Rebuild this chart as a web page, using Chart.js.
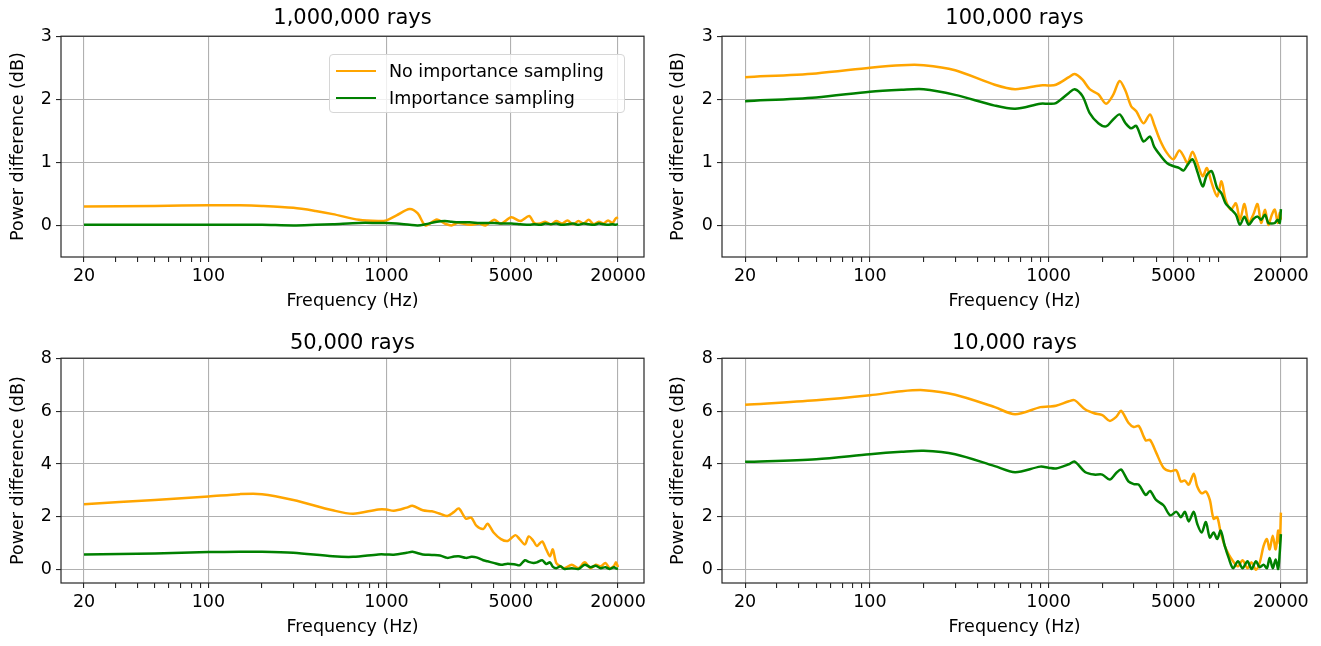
<!DOCTYPE html>
<html>
<head>
<meta charset="utf-8">
<script src="https://cdn.jsdelivr.net/npm/chart.js@4.4.1/dist/chart.umd.min.js"></script>
<style>
  body { margin: 0; background: #fff; }
  #fig { position: relative; width: 1321px; height: 646px; font-family: "DejaVu Sans", sans-serif; }
  .cell { position: absolute; }
  .cell canvas { display: block; }
  #legend {
    position: absolute; left: 329px; top: 54px; width: 296px; height: 59px;
    box-sizing: border-box; border: 1px solid #d6d6d6; border-radius: 4px;
    background: rgba(255, 255, 255, 0.8);
  }
  #legend .item { position: absolute; left: 0; height: 22px; font-size: 17.5px; line-height: 22px; color: #000; white-space: nowrap; }
  #legend .swatch { position: absolute; left: 6px; top: 10px; width: 40px; height: 0; border-top: 2.5px solid; }
  #legend .label { position: absolute; left: 59px; top: 0; }
</style>
</head>
<body>
<div id="fig">
  <div class="cell" style="left:0px;top:0px"><canvas id="c1" width="660" height="320"></canvas></div>
  <div class="cell" style="left:660px;top:0px"><canvas id="c2" width="661" height="320"></canvas></div>
  <div class="cell" style="left:0px;top:320px"><canvas id="c3" width="660" height="326"></canvas></div>
  <div class="cell" style="left:660px;top:320px"><canvas id="c4" width="661" height="326"></canvas></div>
  <div id="legend"></div>
</div>
<script>
// series names and colours
const seriesNames = ['No importance sampling', 'Importance sampling'];
const seriesColors = ['#ffa500', '#008000'];

// x axis ticks
const xMajor = [20, 100, 1000, 5000, 20000];
const xMinor = [30, 40, 50, 60, 70, 80, 90, 200, 300, 400, 500, 600, 700, 800, 900,
  2000, 3000, 4000, 6000, 7000, 8000, 9000];
const yTicksTop = [0, 1, 2, 3];
const yTicksBottom = [0, 2, 4, 6, 8];

// 1,000,000 rays
const freq1M = [20, 50, 100, 150, 200, 300, 400, 500, 700, 900, 1000, 1140, 1350, 1500, 1660, 1920,
  2130, 2320, 2520, 2930, 3340, 3600, 4030, 4400, 5030, 5640, 6340, 6770, 7300, 7800, 8400, 9000,
  9700, 10400, 11200, 12000, 12800, 13700, 14600, 15600, 16600, 17600, 18600, 19400, 20000];
const noIS1M = [0.30, 0.31, 0.32, 0.32, 0.31, 0.28, 0.23, 0.18, 0.09, 0.07, 0.08, 0.16, 0.26, 0.19, 0.0, 0.095,
  0.03, 0.0, 0.04, 0.01, 0.03, 0.0, 0.09, 0.03, 0.13, 0.07, 0.15, 0.04, 0.03, 0.06, 0.02, 0.07,
  0.03, 0.08, 0.02, 0.07, 0.03, 0.09, 0.02, 0.06, 0.03, 0.08, 0.04, 0.11, 0.13];
const is1M = [0.01, 0.01, 0.01, 0.01, 0.01, 0.0, 0.01, 0.02, 0.04, 0.04, 0.04, 0.03, 0.01, 0.0, 0.02, 0.06,
  0.07, 0.06, 0.05, 0.05, 0.04, 0.04, 0.04, 0.03, 0.03, 0.02, 0.01, 0.02, 0.01, 0.03, 0.02, 0.03,
  0.01, 0.02, 0.03, 0.01, 0.03, 0.02, 0.01, 0.03, 0.02, 0.01, 0.02, 0.01, 0.02];

// 100,000 rays
const freq100k = [20, 50, 100, 150, 200, 300, 500, 650, 900, 1000, 1100, 1300, 1400, 1550, 1700,
  1900, 2100, 2300, 2500, 2700, 2900, 3100, 3400, 3700, 3900, 4200, 4600, 5000, 5400, 5700,
  6000, 6400, 6800, 7300, 7700, 8200, 8800, 9300, 9800, 10500, 11200, 11800, 12500, 13200, 14000,
  14800, 15500, 16300, 17000, 17800, 18500, 19200, 19700, 20000];
const noIS100k = [2.35, 2.41, 2.50, 2.54, 2.54, 2.46, 2.23, 2.16, 2.22, 2.22, 2.23, 2.35, 2.40, 2.31, 2.16,
  2.08, 1.93, 2.07, 2.29, 2.13, 1.89, 1.81, 1.62, 1.76, 1.60, 1.36, 1.15, 1.05, 1.19, 1.10,
  0.99, 1.17, 0.99, 0.78, 0.91, 0.67, 0.46, 0.70, 0.41, 0.25, 0.35, 0.09, 0.34, 0.04, 0.17,
  0.34, 0.04, 0.25, 0.01, 0.17, 0.25, 0.04, 0.20, 0.09];
const is100k = [1.97, 2.03, 2.12, 2.15, 2.16, 2.07, 1.90, 1.85, 1.93, 1.93, 1.94, 2.10, 2.16, 2.05, 1.78,
  1.62, 1.57, 1.68, 1.76, 1.62, 1.54, 1.58, 1.33, 1.41, 1.25, 1.12, 0.99, 0.94, 0.91, 0.87,
  0.96, 1.05, 0.86, 0.62, 0.80, 0.86, 0.59, 0.51, 0.35, 0.26, 0.17, 0.01, 0.14, 0.01, 0.10,
  0.14, 0.09, 0.17, 0.04, 0.03, 0.04, 0.09, 0.04, 0.26];

// 50,000 rays
const freq50k = [20, 50, 100, 150, 200, 300, 500, 650, 900, 1000, 1100, 1300, 1400, 1600, 1800,
  2000, 2200, 2400, 2550, 2800, 3000, 3200, 3500, 3700, 4000, 4400, 4800, 5300, 5600, 6000,
  6300, 6700, 7000, 7500, 7900, 8300, 8600, 9000, 9500, 10000, 11000, 12000, 13000, 14000, 15000,
  16000, 17000, 18000, 19000, 19500, 20000];
const noIS50k = [2.48, 2.64, 2.77, 2.86, 2.86, 2.64, 2.25, 2.12, 2.28, 2.28, 2.23, 2.35, 2.42, 2.25, 2.21,
  2.12, 2.03, 2.19, 2.32, 1.93, 1.97, 1.67, 1.54, 1.74, 1.41, 1.16, 1.09, 1.31, 1.16, 0.96,
  1.26, 1.09, 0.90, 1.07, 0.77, 0.51, 0.77, 0.26, 0.13, 0.06, 0.19, 0.06, 0.28, 0.06, 0.19,
  0.13, 0.26, 0.06, 0.15, 0.28, 0.10];
const is50k = [0.58, 0.62, 0.67, 0.68, 0.68, 0.64, 0.51, 0.49, 0.58, 0.58, 0.57, 0.64, 0.68, 0.58, 0.56,
  0.54, 0.45, 0.50, 0.51, 0.45, 0.49, 0.47, 0.36, 0.32, 0.26, 0.19, 0.23, 0.20, 0.17, 0.36,
  0.30, 0.26, 0.28, 0.36, 0.22, 0.28, 0.12, 0.06, 0.13, 0.03, 0.06, 0.03, 0.19, 0.10, 0.15,
  0.06, 0.10, 0.03, 0.10, 0.05, 0.03];

// 10,000 rays
const freq10k = [20, 50, 100, 150, 200, 300, 500, 650, 900, 1000, 1100, 1300, 1400, 1600, 1800,
  2000, 2200, 2400, 2550, 2800, 3000, 3200, 3500, 3700, 4000, 4400, 4800, 5200, 5500, 5800,
  6100, 6500, 6800, 7200, 7600, 8000, 8400, 8800, 9200, 9700, 10200, 10800, 11500, 12200, 13000,
  13700, 14500, 15200, 16000, 16700, 17300, 18000, 18700, 19300, 19700, 20000];
const noIS10k = [6.24, 6.41, 6.60, 6.75, 6.79, 6.62, 6.15, 5.88, 6.15, 6.17, 6.20, 6.37, 6.41, 6.07, 5.92,
  5.85, 5.63, 5.79, 6.01, 5.56, 5.40, 5.44, 4.89, 4.91, 4.44, 3.86, 3.73, 3.76, 3.34, 3.37,
  3.22, 3.63, 3.15, 2.89, 2.96, 2.64, 1.93, 1.99, 1.41, 0.90, 0.58, 0.32, 0.13, 0.36, 0.06,
  0.28, 0.0, 0.26, 0.90, 1.16, 0.77, 1.29, 0.77, 1.48, 1.00, 2.16];
const is10k = [4.08, 4.18, 4.37, 4.46, 4.50, 4.37, 3.92, 3.69, 3.90, 3.86, 3.83, 3.99, 4.09, 3.70, 3.60,
  3.60, 3.41, 3.67, 3.79, 3.34, 3.24, 3.22, 2.83, 2.98, 2.64, 2.44, 2.06, 2.19, 1.99, 2.19,
  1.83, 2.19, 1.74, 1.41, 1.80, 1.22, 1.41, 1.16, 1.48, 0.90, 0.45, 0.06, 0.32, 0.06, 0.32,
  0.03, 0.32, 0.10, 0.19, 0.06, 0.45, 0.06, 0.39, 0.03, 0.64, 1.35];

const FONT = '"DejaVu Sans", sans-serif';
const axisFont = { family: FONT, size: 17.5 };

// box round the plot area, like the matplotlib spines
const frame = {
  id: 'frame',
  afterDatasetsDraw(chart) {
    const { ctx, chartArea: a } = chart;
    ctx.save();
    ctx.strokeStyle = '#262626';
    ctx.lineWidth = 1.2;
    ctx.strokeRect(a.left, a.top, a.right - a.left, a.bottom - a.top);
    ctx.restore();
  }
};

function points(freqs, vals) {
  return freqs.map((f, i) => ({ x: f, y: vals[i] }));
}

function makePanel(id, title, freqs, noIS, withIS, yMax, yTicks, opt) {
  return new Chart(document.getElementById(id), {
    type: 'line',
    data: {
      datasets: [
        { label: seriesNames[0], data: points(freqs, noIS), borderColor: seriesColors[0], order: 1 },
        { label: seriesNames[1], data: points(freqs, withIS), borderColor: seriesColors[1], order: 0 }
      ]
    },
    options: {
      responsive: false,
      animation: false,
      events: [],
      layout: { padding: { left: 0, right: opt.right, top: 0, bottom: 0 } },
      elements: {
        point: { radius: 0 },
        line: { borderWidth: 2.5, tension: 0.3, fill: false }
      },
      plugins: {
        legend: { display: false },
        tooltip: { enabled: false },
        title: {
          display: true, text: title, fullSize: false, color: '#000',
          font: { family: FONT, size: 21, weight: 'normal' },
          padding: opt.titlePad
        }
      },
      scales: {
        x: {
          type: 'logarithmic', min: 14.85, max: 28000,
          afterBuildTicks: s => {
            s.ticks = xMajor.concat(xMinor).sort((a, b) => a - b)
              .map(v => ({ value: v, major: xMajor.includes(v) }));
          },
          afterFit: s => { s.height = 63; },
          ticks: {
            autoSkip: false, maxRotation: 0, padding: 4, color: '#000', font: axisFont,
            callback: v => xMajor.includes(v) ? String(v) : ''
          },
          grid: {
            color: c => (c.tick && c.tick.major) ? '#b0b0b0' : 'rgba(0,0,0,0)',
            tickColor: '#262626', tickLength: 5, lineWidth: 1.1
          },
          border: { display: false },
          title: { display: true, text: 'Frequency (Hz)', color: '#000', font: axisFont, padding: { top: 0, bottom: 8 } }
        },
        y: {
          min: -0.5, max: yMax,
          afterBuildTicks: s => { s.ticks = yTicks.map(v => ({ value: v })); },
          afterFit: s => { s.width = opt.yWidth; },
          ticks: { padding: 4, color: '#000', font: axisFont },
          grid: { color: '#b0b0b0', tickColor: '#262626', tickLength: 5, lineWidth: 1.1 },
          border: { display: false },
          title: { display: true, text: 'Power difference (dB)', color: '#000', font: axisFont, padding: { top: 7.5, bottom: 0 } }
        }
      }
    },
    plugins: [frame]
  });
}

const topPad = { top: 6, bottom: 5 };
const bottomPad = { top: 11, bottom: 2 };

const chart1 = makePanel('c1', '1,000,000 rays', freq1M, noIS1M, is1M, 3, yTicksTop, { yWidth: 61, right: 16, titlePad: topPad });
makePanel('c2', '100,000 rays', freq100k, noIS100k, is100k, 3, yTicksTop, { yWidth: 62, right: 14, titlePad: topPad });
makePanel('c3', '50,000 rays', freq50k, noIS50k, is50k, 8, yTicksBottom, { yWidth: 61, right: 16, titlePad: bottomPad });
makePanel('c4', '10,000 rays', freq10k, noIS10k, is10k, 8, yTicksBottom, { yWidth: 62, right: 14, titlePad: bottomPad });

// legend of the first panel, built from its datasets
const legendBox = document.getElementById('legend');
chart1.data.datasets.forEach((ds, i) => {
  const item = document.createElement('div');
  item.className = 'item';
  item.style.top = (5 + i * 27) + 'px';
  item.style.width = '100%';
  const sw = document.createElement('span');
  sw.className = 'swatch';
  sw.style.borderTopColor = ds.borderColor;
  const lb = document.createElement('span');
  lb.className = 'label';
  lb.textContent = ds.label;
  item.appendChild(sw);
  item.appendChild(lb);
  legendBox.appendChild(item);
});
</script>
</body>
</html>
